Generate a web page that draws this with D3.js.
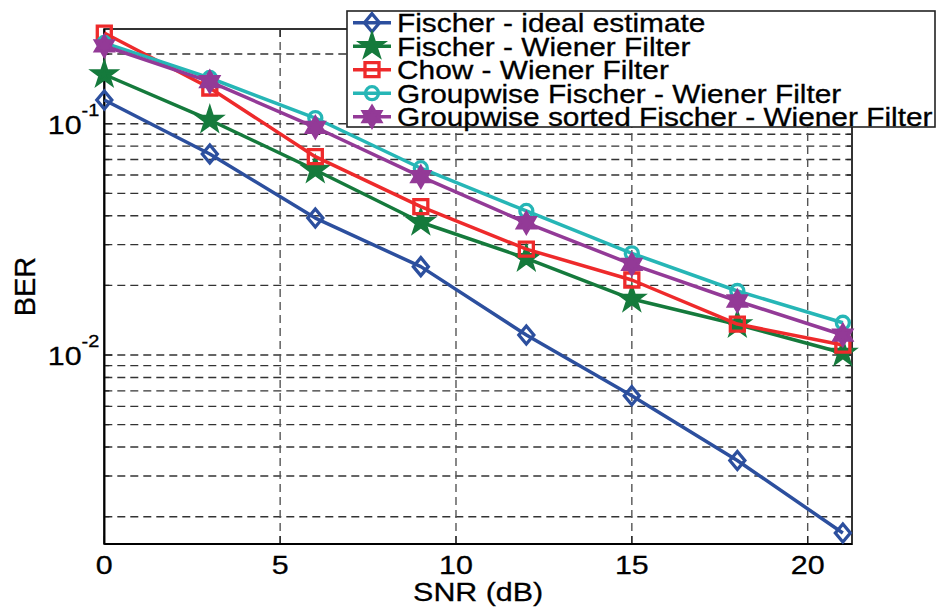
<!DOCTYPE html>
<html>
<head>
<meta charset="utf-8">
<script src="https://cdn.jsdelivr.net/npm/d3@7"></script>
<style>
  html, body { margin: 0; padding: 0; background: #fff; }
  #chart { width: 936px; height: 608px; }
  text { font-family: "Liberation Sans", Arial, sans-serif; fill: #000; stroke: #000; stroke-width: 0.3px; }
</style>
</head>
<body>
<div id="chart"></div>
<script>
// SNR points (dB)
const snr = [0, 3, 6, 9, 12, 15, 18, 21];

// BER per method
const berFischerIdeal   = [0.1266, 0.0740, 0.0391, 0.0241, 0.0122, 0.00667, 0.00350, 0.00170];
const berFischerWiener  = [0.1632, 0.1038, 0.0631, 0.0375, 0.0262, 0.01746, 0.01355, 0.0102];
const berChowWiener     = [0.2466, 0.1427, 0.0720, 0.0438, 0.0287, 0.0211, 0.01361, 0.01104];
const berGroupWiener    = [0.2234, 0.1576, 0.1058, 0.0642, 0.04195, 0.02753, 0.01891, 0.01379];
const berGroupSorted    = [0.2168, 0.1519, 0.0965, 0.0590, 0.0373, 0.02467, 0.01712, 0.0122];

const seriesNames = [
    "Fischer - ideal estimate",
    "Fischer - Wiener Filter",
    "Chow - Wiener Filter",
    "Groupwise Fischer - Wiener Filter",
    "Groupwise sorted Fischer - Wiener Filter"
];
const seriesValues = [berFischerIdeal, berFischerWiener, berChowWiener, berGroupWiener, berGroupSorted];
const seriesColors = ["#2c4f9e", "#157a3c", "#ee2a2b", "#26b6b6", "#933a97"];
const seriesMarkers = ["diamond", "star", "square", "circle", "hexagram"];

const xTicks = [0, 5, 10, 15, 20];
const yMajorExps = [-1, -2];

function drawChart() {
    let div_id = "#chart";
    let win_width = 936, win_height = 608;
    let margin = {top: 29, right: 84, bottom: 64, left: 104.3};
    let width = win_width - margin.left - margin.right;
    let height = win_height - margin.top - margin.bottom;
    let stretch = 1.17; // picture text is a bit wide

    let svg = d3.select(div_id).append("svg")
        .attr("width", win_width)
        .attr("height", win_height);

    let g = svg.append("g")
        .attr("transform", "translate(" + margin.left + "," + margin.top + ")");

    let x = d3.scaleLinear().domain([0, 21.26]).range([0, width]);
    let y = d3.scaleLog().domain([0.001524, 0.2567]).range([height, 0]);

    // grid
    let yGrid = y.ticks().filter(function(v) { return v >= 0.001524 && v <= 0.2567; });
    g.append("g").selectAll("line")
        .data(yGrid)
        .join("line")
        .attr("x1", 0).attr("x2", width)
        .attr("y1", d => y(d)).attr("y2", d => y(d))
        .attr("stroke", "#333")
        .attr("stroke-width", 1.4)
        .attr("stroke-dasharray", "8,5");

    g.append("g").selectAll("line")
        .data(xTicks.filter(d => d > 0))
        .join("line")
        .attr("x1", d => x(d)).attr("x2", d => x(d))
        .attr("y1", 0).attr("y2", height)
        .attr("stroke", "#555")
        .attr("stroke-width", 1.4)
        .attr("stroke-dasharray", "8,5");

    // tick marks (inward, both sides)
    let tickG = g.append("g").attr("stroke", "#222").attr("stroke-width", 1.3);
    yGrid.forEach(function(v) {
        let major = yMajorExps.some(e => Math.abs(Math.pow(10, e) - v) < 1e-9);
        let len = major ? 8 : 5;
        tickG.append("line").attr("x1", 0).attr("x2", len).attr("y1", y(v)).attr("y2", y(v));
        tickG.append("line").attr("x1", width).attr("x2", width - len).attr("y1", y(v)).attr("y2", y(v));
    });
    xTicks.forEach(function(v) {
        tickG.append("line").attr("x1", x(v)).attr("x2", x(v)).attr("y1", height).attr("y2", height - 8);
        tickG.append("line").attr("x1", x(v)).attr("x2", x(v)).attr("y1", 0).attr("y2", 8);
    });

    // frame
    g.append("rect")
        .attr("x", 0).attr("y", 0)
        .attr("width", width).attr("height", height)
        .attr("fill", "none")
        .attr("stroke", "#333")
        .attr("stroke-width", 2);
    g.append("line").attr("x1", 0).attr("x2", 0).attr("y1", 0).attr("y2", height)
        .attr("stroke", "#000").attr("stroke-width", 2);
    g.append("line").attr("x1", 0).attr("x2", width).attr("y1", height).attr("y2", height)
        .attr("stroke", "#000").attr("stroke-width", 2);

    // x tick labels
    g.append("g").selectAll("text")
        .data(xTicks)
        .join("text")
        .attr("transform", d => "translate(" + x(d) + "," + (height + 30) + ") scale(" + stretch + ",1)")
        .attr("text-anchor", "middle")
        .style("font-size", "26px")
        .text(d => d);

    // y tick labels 10^e
    yMajorExps.forEach(function(e) {
        let t = g.append("text")
            .attr("transform", "translate(-5," + (y(Math.pow(10, e)) + 10) + ") scale(" + stretch + ",1)")
            .attr("text-anchor", "end")
            .style("font-size", "26px");
        t.append("tspan").text("10");
        t.append("tspan").attr("dy", -18).style("font-size", "17px").text(String(e));
    });

    // axis titles
    svg.append("text")
        .attr("transform", "translate(" + (margin.left + width / 2) + "," + 601 + ") scale(" + stretch + ",1)")
        .attr("text-anchor", "middle")
        .style("font-size", "26px")
        .text("SNR (dB)");

    svg.append("text")
        .attr("transform", "translate(35," + (margin.top + height / 2) + ") rotate(-90)")
        .attr("text-anchor", "middle")
        .style("font-size", "29px")
        .text("BER");

    // markers
    let markerPath = function(type) {
        if (type == "diamond") return "M0,-9L7.5,0L0,9L-7.5,0Z";
        if (type == "square") return "M-7,-7H7V7H-7Z";
        if (type == "circle") return d3.symbol().type(d3.symbolCircle).size(Math.PI * 6.5 * 6.5)();
        let n = type == "star" ? 5 : 6;
        let R = type == "star" ? 11.5 : 10;
        let r = type == "star" ? R * 0.382 : R / Math.sqrt(3);
        let pts = [];
        for (let i = 0; i < 2 * n; i++) {
            let a = -Math.PI / 2 + i * Math.PI / n;
            let rr = i % 2 == 0 ? R : r;
            pts.push([rr * Math.cos(a), rr * Math.sin(a)]);
        }
        return "M" + pts.map(p => p[0].toFixed(2) + "," + p[1].toFixed(2)).join("L") + "Z";
    };
    let filled = function(type) { return type == "star" || type == "hexagram"; };

    let line = d3.line()
        .x(d => x(d[0]))
        .y(d => y(d[1]));

    seriesValues.forEach(function(vals, i) {
        let pts = snr.map((s, k) => [s, vals[k]]);
        g.append("path")
            .datum(pts)
            .attr("fill", "none")
            .attr("stroke", seriesColors[i])
            .attr("stroke-width", 3.5)
            .attr("stroke-linejoin", "round")
            .attr("d", line);
        g.append("g").selectAll("path")
            .data(pts)
            .join("path")
            .attr("transform", d => "translate(" + x(d[0]) + "," + y(d[1]) + ")")
            .attr("d", markerPath(seriesMarkers[i]))
            .attr("fill", filled(seriesMarkers[i]) ? seriesColors[i] : "none")
            .attr("stroke", seriesColors[i])
            .attr("stroke-width", 3.3)
            .attr("stroke-linejoin", "miter");
    });

    // legend
    let lg = svg.append("g");
    lg.append("rect")
        .attr("x", 347).attr("y", 11)
        .attr("width", 588).attr("height", 116)
        .attr("fill", "#fff")
        .attr("stroke", "#222")
        .attr("stroke-width", 1.6);
    let rowH = 23.5;
    seriesNames.forEach(function(name, i) {
        let cy = 22.7 + i * rowH;
        lg.append("line")
            .attr("x1", 353).attr("x2", 391)
            .attr("y1", cy).attr("y2", cy)
            .attr("stroke", seriesColors[i])
            .attr("stroke-width", 3.5);
        lg.append("path")
            .attr("transform", "translate(372," + cy + ")")
            .attr("d", markerPath(seriesMarkers[i]))
            .attr("fill", filled(seriesMarkers[i]) ? seriesColors[i] : "none")
            .attr("stroke", seriesColors[i])
            .attr("stroke-width", 3.3);
        lg.append("text")
            .attr("transform", "translate(397," + (cy + 9.5) + ") scale(" + stretch + ",1)")
            .style("font-size", "25.5px")
            .text(name);
    });
}

drawChart();
</script>
</body>
</html>
